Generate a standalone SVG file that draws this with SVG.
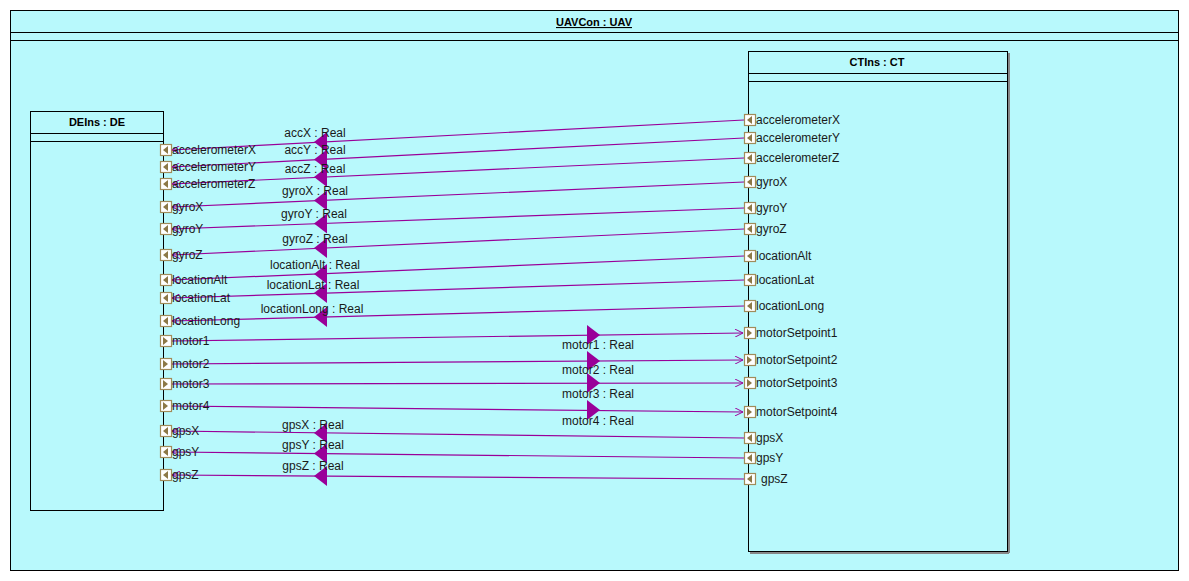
<svg xmlns="http://www.w3.org/2000/svg" width="1189" height="581" viewBox="0 0 1189 581">
<defs>
<style>
.frame{fill:#b8f9fc;stroke:#000;stroke-width:1}
.sep{stroke:#000;stroke-width:1}
.title{font-family:"Liberation Sans",Arial,sans-serif;font-size:11px;font-weight:bold;fill:#000;text-anchor:middle}
.pl{font-family:"Liberation Sans",Arial,sans-serif;font-size:12px;fill:#1a1a1a}
.cl{font-family:"Liberation Sans",Arial,sans-serif;font-size:12px;fill:#1a1a1a;text-anchor:middle}
.port{fill:#fff;stroke:#a08c5a;stroke-width:1.2}
.pt{fill:#8c7846}
.conn{stroke:#990099;stroke-width:1.2;fill:none}
.tri{fill:#990099}
</style>
<marker id="open" viewBox="0 0 10 10" refX="10" refY="5" markerWidth="9" markerHeight="8" markerUnits="userSpaceOnUse" orient="auto">
<path d="M0,0 L10,5 L0,10" fill="none" stroke="#990099" stroke-width="1.2"/>
</marker>
</defs>

<g id="UAVCon">
<rect class="frame" x="10.5" y="10.5" width="1168" height="560"/>
<line class="sep" x1="10.5" y1="32.5" x2="1178.5" y2="32.5"/>
<line class="sep" x1="10.5" y1="40.5" x2="1178.5" y2="40.5"/>
<text class="title" x="594" y="26" text-decoration="underline">UAVCon : UAV</text>
</g>

<g id="DEIns">
<rect class="frame" x="30.5" y="111.5" width="133" height="399"/>
<line class="sep" x1="30.5" y1="133.5" x2="163.5" y2="133.5"/>
<line class="sep" x1="30.5" y1="141.5" x2="163.5" y2="141.5"/>
<text class="title" x="97" y="126">DEIns : DE</text>
</g>

<g id="CTIns">
<line x1="1009" y1="53" x2="1009" y2="553" stroke="#888" stroke-width="2"/>
<line x1="750" y1="553" x2="1009" y2="553" stroke="#888" stroke-width="2"/>
<rect class="frame" x="748.5" y="51.5" width="259" height="500"/>
<line class="sep" x1="748.5" y1="73.5" x2="1007.5" y2="73.5"/>
<line class="sep" x1="748.5" y1="81.5" x2="1007.5" y2="81.5"/>
<text class="title" x="877" y="66">CTIns : CT</text>
</g>

<g id="connectors">
<line class="conn" x1="744" y1="120" x2="172" y2="150" marker-end="url(#open)"/>
<line class="conn" x1="744" y1="138" x2="172" y2="167" marker-end="url(#open)"/>
<line class="conn" x1="744" y1="158" x2="172" y2="184" marker-end="url(#open)"/>
<line class="conn" x1="744" y1="182" x2="172" y2="207" marker-end="url(#open)"/>
<line class="conn" x1="744" y1="208" x2="172" y2="229" marker-end="url(#open)"/>
<line class="conn" x1="744" y1="229" x2="172" y2="255" marker-end="url(#open)"/>
<line class="conn" x1="744" y1="256" x2="172" y2="280" marker-end="url(#open)"/>
<line class="conn" x1="744" y1="280" x2="172" y2="298" marker-end="url(#open)"/>
<line class="conn" x1="744" y1="306" x2="172" y2="321" marker-end="url(#open)"/>
<line class="conn" x1="172" y1="341" x2="743" y2="333" marker-end="url(#open)"/>
<line class="conn" x1="172" y1="364" x2="743" y2="360" marker-end="url(#open)"/>
<line class="conn" x1="172" y1="384" x2="743" y2="383" marker-end="url(#open)"/>
<line class="conn" x1="172" y1="406" x2="743" y2="412" marker-end="url(#open)"/>
<line class="conn" x1="744" y1="438" x2="172" y2="431" marker-end="url(#open)"/>
<line class="conn" x1="744" y1="458" x2="172" y2="452" marker-end="url(#open)"/>
<line class="conn" x1="744" y1="479" x2="172" y2="475" marker-end="url(#open)"/>

<polygon class="tri" points="314,142 327,132 327,152"/>
<polygon class="tri" points="314,159.5 327,149.5 327,169.5"/>
<polygon class="tri" points="314,177 327,167 327,187"/>
<polygon class="tri" points="314,200.5 327,190.5 327,210.5"/>
<polygon class="tri" points="314,223.5 327,213.5 327,233.5"/>
<polygon class="tri" points="314,248 327,238 327,258"/>
<polygon class="tri" points="314,274 327,264 327,284"/>
<polygon class="tri" points="314,293 327,283 327,303"/>
<polygon class="tri" points="314,317 327,307 327,327"/>
<polygon class="tri" points="587,325 600,335 587,345"/>
<polygon class="tri" points="587,351 600,361 587,371"/>
<polygon class="tri" points="587,373 600,383 587,393"/>
<polygon class="tri" points="587,400 600,410 587,420"/>
<polygon class="tri" points="314,433 327,423 327,443"/>
<polygon class="tri" points="314,453.5 327,443.5 327,463.5"/>
<polygon class="tri" points="314,476 327,466 327,486"/>

<text class="cl" x="315" y="137">accX : Real</text>
<text class="cl" x="315" y="154">accY : Real</text>
<text class="cl" x="315" y="173">accZ : Real</text>
<text class="cl" x="315" y="195">gyroX : Real</text>
<text class="cl" x="314" y="218">gyroY : Real</text>
<text class="cl" x="315" y="243">gyroZ : Real</text>
<text class="cl" x="315" y="269">locationAlt : Real</text>
<text class="cl" x="313" y="289">locationLat : Real</text>
<text class="cl" x="312" y="313">locationLong : Real</text>
<text class="cl" x="598" y="349">motor1 : Real</text>
<text class="cl" x="598" y="374">motor2 : Real</text>
<text class="cl" x="598" y="398">motor3 : Real</text>
<text class="cl" x="598" y="425">motor4 : Real</text>
<text class="cl" x="313" y="429">gpsX : Real</text>
<text class="cl" x="313" y="449">gpsY : Real</text>
<text class="cl" x="313" y="470">gpsZ : Real</text>
</g>

<g id="DEIns-ports">
<g transform="translate(160,144)"><rect class="port" x="0.5" y="0.5" width="11" height="11"/><polygon class="pt" points="3,6 8,2 8,10"/></g>
<g transform="translate(160,161)"><rect class="port" x="0.5" y="0.5" width="11" height="11"/><polygon class="pt" points="3,6 8,2 8,10"/></g>
<g transform="translate(160,178)"><rect class="port" x="0.5" y="0.5" width="11" height="11"/><polygon class="pt" points="3,6 8,2 8,10"/></g>
<g transform="translate(160,201)"><rect class="port" x="0.5" y="0.5" width="11" height="11"/><polygon class="pt" points="3,6 8,2 8,10"/></g>
<g transform="translate(160,223)"><rect class="port" x="0.5" y="0.5" width="11" height="11"/><polygon class="pt" points="3,6 8,2 8,10"/></g>
<g transform="translate(160,249)"><rect class="port" x="0.5" y="0.5" width="11" height="11"/><polygon class="pt" points="3,6 8,2 8,10"/></g>
<g transform="translate(160,274)"><rect class="port" x="0.5" y="0.5" width="11" height="11"/><polygon class="pt" points="3,6 8,2 8,10"/></g>
<g transform="translate(160,292)"><rect class="port" x="0.5" y="0.5" width="11" height="11"/><polygon class="pt" points="3,6 8,2 8,10"/></g>
<g transform="translate(160,315)"><rect class="port" x="0.5" y="0.5" width="11" height="11"/><polygon class="pt" points="3,6 8,2 8,10"/></g>
<g transform="translate(160,335)"><rect class="port" x="0.5" y="0.5" width="11" height="11"/><polygon class="pt" points="8,6 3,2 3,10"/></g>
<g transform="translate(160,358)"><rect class="port" x="0.5" y="0.5" width="11" height="11"/><polygon class="pt" points="8,6 3,2 3,10"/></g>
<g transform="translate(160,378)"><rect class="port" x="0.5" y="0.5" width="11" height="11"/><polygon class="pt" points="8,6 3,2 3,10"/></g>
<g transform="translate(160,400)"><rect class="port" x="0.5" y="0.5" width="11" height="11"/><polygon class="pt" points="8,6 3,2 3,10"/></g>
<g transform="translate(160,425)"><rect class="port" x="0.5" y="0.5" width="11" height="11"/><polygon class="pt" points="3,6 8,2 8,10"/></g>
<g transform="translate(160,446)"><rect class="port" x="0.5" y="0.5" width="11" height="11"/><polygon class="pt" points="3,6 8,2 8,10"/></g>
<g transform="translate(160,469)"><rect class="port" x="0.5" y="0.5" width="11" height="11"/><polygon class="pt" points="3,6 8,2 8,10"/></g>
<text class="pl" x="172" y="154">accelerometerX</text>
<text class="pl" x="172" y="171">accelerometerY</text>
<text class="pl" x="172" y="188">accelerometerZ</text>
<text class="pl" x="172" y="211">gyroX</text>
<text class="pl" x="172" y="233">gyroY</text>
<text class="pl" x="172" y="259">gyroZ</text>
<text class="pl" x="172" y="284">locationAlt</text>
<text class="pl" x="172" y="302">locationLat</text>
<text class="pl" x="172" y="325">locationLong</text>
<text class="pl" x="172" y="345">motor1</text>
<text class="pl" x="172" y="368">motor2</text>
<text class="pl" x="172" y="388">motor3</text>
<text class="pl" x="172" y="410">motor4</text>
<text class="pl" x="172" y="435">gpsX</text>
<text class="pl" x="172" y="456">gpsY</text>
<text class="pl" x="172" y="479">gpsZ</text>
</g>

<g id="CTIns-ports">
<g transform="translate(744,114)"><rect class="port" x="0.5" y="0.5" width="11" height="11"/><polygon class="pt" points="3,6 8,2 8,10"/></g>
<g transform="translate(744,132)"><rect class="port" x="0.5" y="0.5" width="11" height="11"/><polygon class="pt" points="3,6 8,2 8,10"/></g>
<g transform="translate(744,152)"><rect class="port" x="0.5" y="0.5" width="11" height="11"/><polygon class="pt" points="3,6 8,2 8,10"/></g>
<g transform="translate(744,176)"><rect class="port" x="0.5" y="0.5" width="11" height="11"/><polygon class="pt" points="3,6 8,2 8,10"/></g>
<g transform="translate(744,202)"><rect class="port" x="0.5" y="0.5" width="11" height="11"/><polygon class="pt" points="3,6 8,2 8,10"/></g>
<g transform="translate(744,223)"><rect class="port" x="0.5" y="0.5" width="11" height="11"/><polygon class="pt" points="3,6 8,2 8,10"/></g>
<g transform="translate(744,250)"><rect class="port" x="0.5" y="0.5" width="11" height="11"/><polygon class="pt" points="3,6 8,2 8,10"/></g>
<g transform="translate(744,274)"><rect class="port" x="0.5" y="0.5" width="11" height="11"/><polygon class="pt" points="3,6 8,2 8,10"/></g>
<g transform="translate(744,300)"><rect class="port" x="0.5" y="0.5" width="11" height="11"/><polygon class="pt" points="3,6 8,2 8,10"/></g>
<g transform="translate(744,327)"><rect class="port" x="0.5" y="0.5" width="11" height="11"/><polygon class="pt" points="8,6 3,2 3,10"/></g>
<g transform="translate(744,354)"><rect class="port" x="0.5" y="0.5" width="11" height="11"/><polygon class="pt" points="8,6 3,2 3,10"/></g>
<g transform="translate(744,377)"><rect class="port" x="0.5" y="0.5" width="11" height="11"/><polygon class="pt" points="8,6 3,2 3,10"/></g>
<g transform="translate(744,406)"><rect class="port" x="0.5" y="0.5" width="11" height="11"/><polygon class="pt" points="8,6 3,2 3,10"/></g>
<g transform="translate(744,432)"><rect class="port" x="0.5" y="0.5" width="11" height="11"/><polygon class="pt" points="3,6 8,2 8,10"/></g>
<g transform="translate(744,452)"><rect class="port" x="0.5" y="0.5" width="11" height="11"/><polygon class="pt" points="3,6 8,2 8,10"/></g>
<g transform="translate(744,473)"><rect class="port" x="0.5" y="0.5" width="11" height="11"/><polygon class="pt" points="3,6 8,2 8,10"/></g>
<text class="pl" x="756" y="124">accelerometerX</text>
<text class="pl" x="756" y="142">accelerometerY</text>
<text class="pl" x="756" y="162">accelerometerZ</text>
<text class="pl" x="756" y="186">gyroX</text>
<text class="pl" x="756" y="212">gyroY</text>
<text class="pl" x="756" y="233">gyroZ</text>
<text class="pl" x="756" y="260">locationAlt</text>
<text class="pl" x="756" y="284">locationLat</text>
<text class="pl" x="756" y="310">locationLong</text>
<text class="pl" x="756" y="337">motorSetpoint1</text>
<text class="pl" x="756" y="364">motorSetpoint2</text>
<text class="pl" x="756" y="387">motorSetpoint3</text>
<text class="pl" x="756" y="416">motorSetpoint4</text>
<text class="pl" x="756" y="442">gpsX</text>
<text class="pl" x="756" y="462">gpsY</text>
<text class="pl" x="761" y="483">gpsZ</text>
</g>
</svg>
